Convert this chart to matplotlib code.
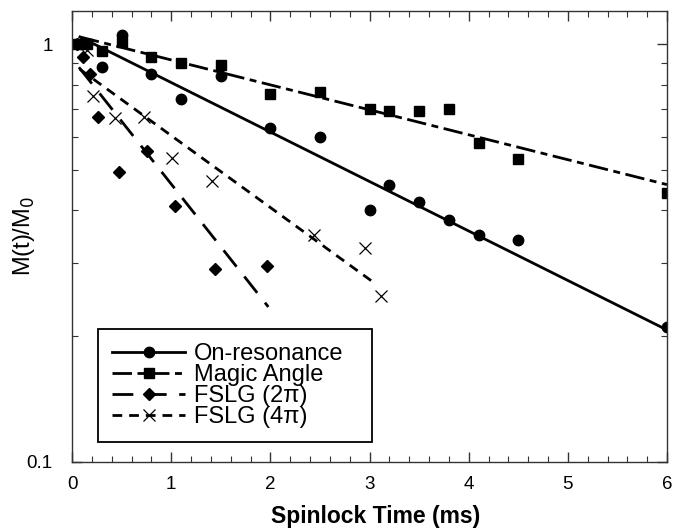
import matplotlib
matplotlib.use("Agg")
import matplotlib.pyplot as plt
from matplotlib.lines import Line2D
from matplotlib.ticker import MultipleLocator, LogLocator, FixedFormatter, FixedLocator, NullFormatter

plt.rcParams['font.family'] = ['Liberation Sans', 'DejaVu Sans']
plt.rcParams['lines.scale_dashes'] = False

# measured points (spinlock time in ms, M(t)/M0)
onres_t = [0.05, 0.1, 0.3, 0.5, 0.8, 1.1, 1.5, 2.0, 2.5, 3.0, 3.2, 3.5, 3.8, 4.1, 4.5, 6.0]
onres_m = [1.0, 1.0, 0.88, 1.05, 0.85, 0.74, 0.84, 0.63, 0.60, 0.40, 0.46, 0.42, 0.38, 0.35, 0.34, 0.21]

magic_t = [0.05, 0.15, 0.3, 0.5, 0.8, 1.1, 1.5, 2.0, 2.5, 3.0, 3.2, 3.5, 3.8, 4.1, 4.5, 6.0]
magic_m = [1.0, 1.0, 0.96, 1.01, 0.93, 0.90, 0.89, 0.76, 0.77, 0.70, 0.69, 0.69, 0.70, 0.58, 0.53, 0.44]

fslg2_t = [0.05, 0.11, 0.18, 0.26, 0.47, 0.76, 1.04, 1.44, 1.97]
fslg2_m = [1.0, 0.93, 0.85, 0.67, 0.495, 0.555, 0.41, 0.29, 0.295]

fslg4_t = [0.05, 0.15, 0.21, 0.43, 0.73, 1.01, 1.41, 2.44, 2.95, 3.12]
fslg4_m = [1.0, 0.97, 0.75, 0.665, 0.67, 0.535, 0.47, 0.35, 0.325, 0.25]

# fitted exponential decays (end points)
fit_onres_t = [0.08, 6.0]
fit_onres_m = [1.04, 0.207]
fit_magic_t = [0.08, 6.0]
fit_magic_m = [1.04, 0.461]
fit_fslg2_t = [0.07, 1.98]
fit_fslg2_m = [0.88, 0.235]
fit_fslg4_t = [0.08, 3.06]
fit_fslg4_m = [0.87, 0.267]

labels = ['On-resonance', 'Magic Angle', 'FSLG (2π)', 'FSLG (4π)']

fig = plt.figure(figsize=(6.73, 5.28), dpi=100)
fig.subplots_adjust(left=72/673, right=667/673, top=1-11/528, bottom=1-462/528)
ax = fig.add_subplot(111)

lw = 2.0
ds_magic = (0, (14, 4, 5, 4))
ds_2pi = (0, (15, 9))
ds_4pi = (0, (7, 5))

ax.plot(fit_onres_t, fit_onres_m, color='k', lw=lw, ls='-')
ax.plot(fit_magic_t, fit_magic_m, color='k', lw=lw, ls=ds_magic)
ax.plot(fit_fslg2_t, fit_fslg2_m, color='k', lw=lw, ls=ds_2pi)
ax.plot(fit_fslg4_t, fit_fslg4_m, color='k', lw=lw, ls=ds_4pi)

ax.plot(onres_t, onres_m, 'o', color='k', ms=7.5, ls='none')
ax.plot(magic_t, magic_m, 's', color='k', ms=7.5, ls='none')
ax.plot(fslg2_t, fslg2_m, 'D', color='k', ms=6.5, ls='none')
ax.plot(fslg4_t, fslg4_m, 'x', color='k', ms=8, mew=0.9, ls='none')

ax.set_yscale('log')
ax.set_xlim(0, 6)
ax.set_ylim(0.1, 1.2)

ax.xaxis.set_major_locator(MultipleLocator(1))
ax.xaxis.set_minor_locator(MultipleLocator(0.2))
ax.yaxis.set_major_locator(FixedLocator([0.1, 1]))
ax.yaxis.set_major_formatter(FixedFormatter(['0.1', '1']))
ax.yaxis.set_minor_locator(LogLocator(base=10, subs=[2, 3, 4, 5, 6, 7, 8, 9]))
ax.yaxis.set_minor_formatter(NullFormatter())

ax.tick_params(which='both', direction='in', top=True, right=True, color='#333333')
ax.tick_params(which='major', length=7, width=1, labelsize=13.5)
ax.tick_params(which='minor', length=4, width=0.8)
ax.tick_params(axis='y', which='major', pad=14)
ax.tick_params(axis='x', which='major', pad=10)
for sp in ax.spines.values():
    sp.set_linewidth(1.0)
    sp.set_color('#333333')

ax.set_xlabel('Spinlock Time (ms)', fontsize=16.5, fontweight='bold')
ax.xaxis.set_label_coords(0.511, -0.095)
ax.set_ylabel('M(t)/M$_0$', fontsize=17)
ax.yaxis.set_label_coords(-0.058, 0.5)

handles = [
    Line2D([], [], color='k', lw=lw, ls='-', marker='o', ms=7.5),
    Line2D([], [], color='k', lw=lw, ls=ds_magic, marker='s', ms=7.5),
    Line2D([], [], color='k', lw=lw, ls=ds_2pi, marker='D', ms=6.5),
    Line2D([], [], color='k', lw=lw, ls=ds_4pi, marker='x', ms=8, mew=0.9),
]
leg = ax.legend(handles, labels, loc='lower left', bbox_to_anchor=(26/595, 20/451, 274/595, 122/451),
                mode='expand', fontsize=17, frameon=True, fancybox=False, framealpha=1,
                edgecolor='k', handlelength=3.1, handletextpad=0.35, labelspacing=-0.05,
                borderpad=0.6, borderaxespad=0)
leg.get_frame().set_linewidth(1.3)

fig.savefig('out.png', dpi=100)
